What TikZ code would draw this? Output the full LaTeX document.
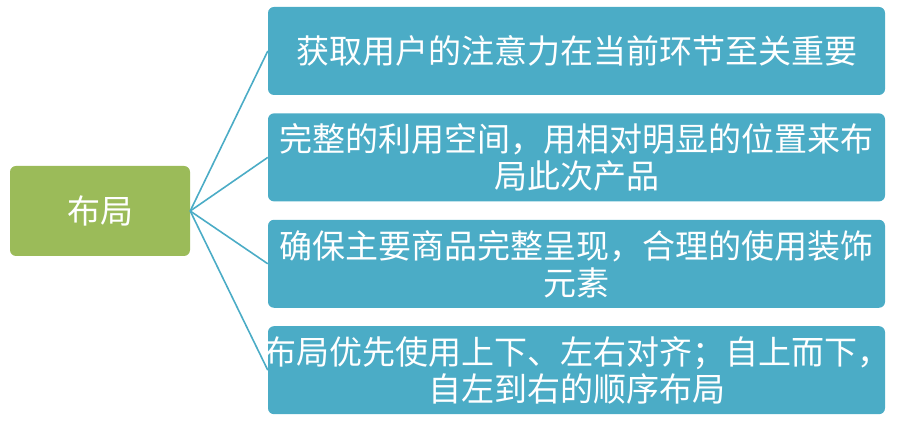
\documentclass[tikz,border=0pt]{standalone}
\usepackage{fontspec}
\setmainfont{Noto Sans CJK SC}
\usetikzlibrary{positioning}
\definecolor{topicgreen}{HTML}{9BBB59}
\definecolor{itemblue}{HTML}{4BACC6}
\tikzstyle{topic}=[rectangle, rounded corners=6pt, fill=topicgreen,
  text=white, minimum width=180pt, minimum height=90pt, inner sep=0pt]
\tikzstyle{item}=[rectangle, rounded corners=6pt, fill=itemblue,
  text=white, minimum width=617pt, minimum height=88pt, inner sep=0pt,
  align=center]
\tikzstyle{arrlink}=[draw=itemblue, line width=1.6pt]

\begin{document}
\begin{tikzpicture}[node distance=18pt,
  every node/.style={font=\fontsize{33}{37}\selectfont}]
\useasboundingbox (0pt,0pt) rectangle (900pt,427pt);

\node[topic] (layout) at (100pt,216pt) {布局};

\node[item] (attention) at (576.5pt,376pt) {获取用户的注意力在当前环节至关重要};
\node[item, below=of attention] (space) {完整的利用空间，用相对明显的位置来布\\局此次产品};
\node[item, below=of space] (goods) {确保主要商品完整呈现，合理的使用装饰\\元素};
\node[item, below=of goods] (align) {\makebox[600pt]{布局优先使用上下、左右对齐；自上而下，}\\自左到右的顺序布局};

\foreach \n in {attention, space, goods, align}
  \draw[arrlink] (layout.east) -- (\n.west);

\end{tikzpicture}
\end{document}
